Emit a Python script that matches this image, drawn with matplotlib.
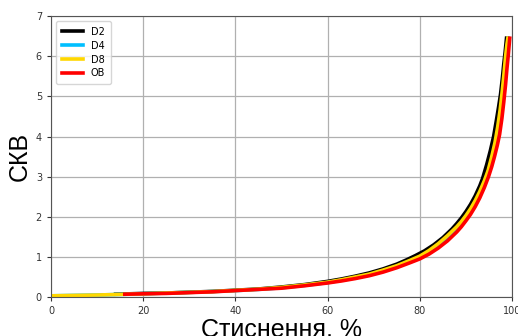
import matplotlib
matplotlib.use("Agg")
import matplotlib.pyplot as plt

# Дані: стиснення (%) та СКВ
x_d2 = [14, 20, 25, 30, 35, 40, 45, 50, 55, 60, 63, 66, 69, 72, 75, 77, 79, 81, 83, 85, 87, 88, 89,
        90, 91, 92, 93, 93.6, 94.5, 95.3, 96.0, 96.6, 97.1, 97.5, 97.9, 98.2, 98.5, 98.8]
y_d2 = [0.07, 0.09, 0.10, 0.12, 0.14, 0.17, 0.20, 0.25, 0.31, 0.39, 0.45, 0.52, 0.60, 0.70, 0.82, 0.92, 1.03, 1.15, 1.30, 1.48, 1.70, 1.83, 1.97,
        2.13, 2.31, 2.52, 2.77, 2.95, 3.3, 3.65, 4.0, 4.4, 4.75, 5.05, 5.45, 5.8, 6.1, 6.45]

x_d4 = [0, 5, 10, 15, 20, 25, 30, 35, 40, 45, 50, 55, 60, 63, 66, 69, 72, 75, 78, 80, 82, 84, 86, 88, 89,
        90, 91, 92, 93, 94, 94.8, 95.6, 96.3, 96.9, 97.4, 97.9, 98.3, 98.7, 99.0, 99.2]
y_d4 = [0.03, 0.04, 0.05, 0.065, 0.08, 0.10, 0.115, 0.135, 0.16, 0.19, 0.23, 0.29, 0.36, 0.42, 0.48, 0.55, 0.65, 0.76, 0.89, 0.99, 1.12, 1.28, 1.47, 1.69, 1.82,
        1.97, 2.14, 2.33, 2.55, 2.8, 3.05, 3.38, 3.72, 4.1, 4.5, 4.95, 5.4, 5.9, 6.25, 6.45]

x_d8 = [0, 5, 10, 15, 20, 25, 30, 35, 40, 45, 50, 55, 60, 63, 66, 69, 72, 75, 78, 80, 82, 84, 86, 88, 89,
        90, 91, 92, 93, 94, 94.8, 95.6, 96.3, 96.9, 97.4, 97.8, 98.2, 98.6, 98.9, 99.1]
y_d8 = [0.03, 0.04, 0.05, 0.065, 0.08, 0.10, 0.115, 0.135, 0.165, 0.195, 0.24, 0.30, 0.37, 0.43, 0.50, 0.57, 0.67, 0.78, 0.92, 1.02, 1.16, 1.33, 1.53, 1.75, 1.88,
        2.03, 2.2, 2.4, 2.63, 2.9, 3.15, 3.5, 3.85, 4.25, 4.65, 5.05, 5.5, 6.0, 6.3, 6.45]

x_ob = [16, 20, 25, 30, 35, 40, 45, 50, 55, 60, 63, 66, 69, 72, 75, 78, 80, 82, 84, 86, 88, 89,
        90, 91, 92, 93, 94, 94.9, 95.6, 96.2, 96.8, 97.3, 97.8, 98.2, 98.6, 98.9, 99.2, 99.5]
y_ob = [0.07, 0.08, 0.09, 0.11, 0.13, 0.16, 0.19, 0.22, 0.28, 0.35, 0.40, 0.46, 0.53, 0.62, 0.73, 0.86, 0.95, 1.07, 1.22, 1.40, 1.62, 1.75,
        1.9, 2.06, 2.25, 2.47, 2.73, 3.0, 3.25, 3.5, 3.78, 4.05, 4.45, 4.85, 5.3, 5.7, 6.05, 6.45]

fig = plt.figure(figsize=(5.18, 3.36), dpi=100)
ax = fig.add_axes([0.0985, 0.116, 0.89, 0.836])

ax.plot(x_d2, y_d2, color="black", lw=2.6, label="D2")
ax.plot(x_d4, y_d4, color="#00bfff", lw=2.6, label="D4")
ax.plot(x_d8, y_d8, color="#ffd700", lw=2.6, label="D8")
ax.plot(x_ob, y_ob, color="red", lw=2.6, label="OB")

ax.set_xlim(0, 100)
ax.set_ylim(0, 7)
ax.set_xticks(range(0, 101, 20))
ax.set_yticks(range(0, 8))
ax.grid(True, color="#b0b0b0", lw=0.9)
ax.tick_params(labelsize=7, colors="#333333", length=3)
for s in ax.spines.values():
    s.set_color("#555555")

ax.set_xlabel("Стиснення, %", fontsize=18, family="Liberation Sans", labelpad=1)
ax.set_ylabel("СКВ", fontsize=18, family="Liberation Sans", labelpad=3)

ax.legend(loc="upper left", fontsize=7, handlelength=2.2, borderpad=0.6, labelspacing=0.4)

fig.savefig("out.png", dpi=100)
